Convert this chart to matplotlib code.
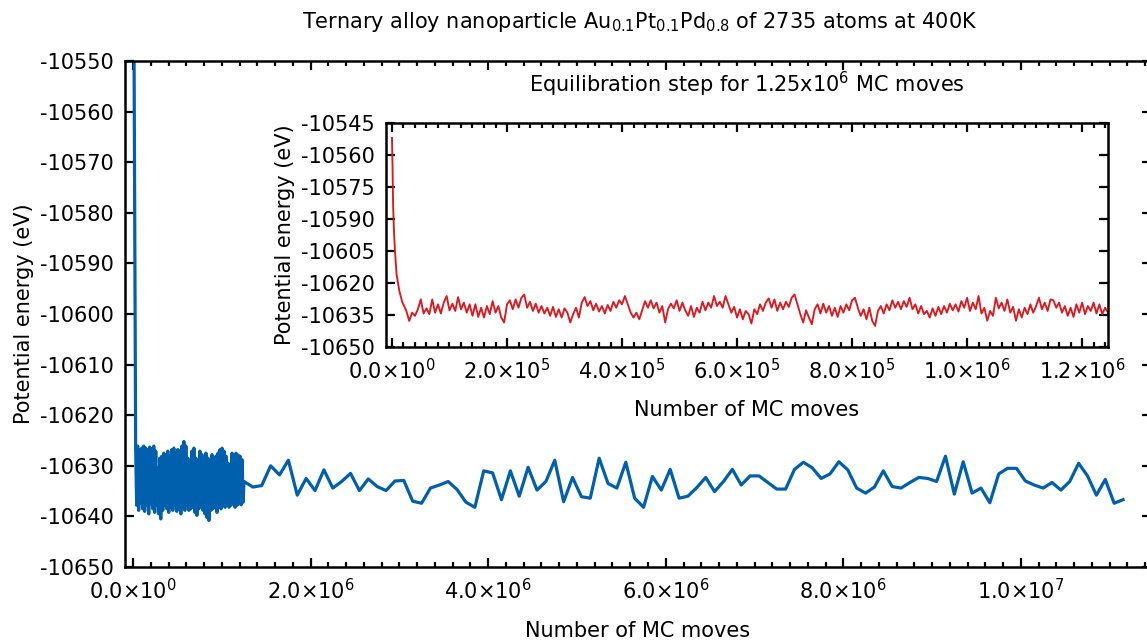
import numpy as np
import matplotlib
matplotlib.use("Agg")
import matplotlib.pyplot as plt
from matplotlib.ticker import FixedLocator, MultipleLocator

# ---------------- data ----------------
title = "Ternary alloy nanoparticle Au$_{0.1}$Pt$_{0.1}$Pd$_{0.8}$ of 2735 atoms at 400K"
inset_title = "Equilibration step for 1.25x10$^{6}$ MC moves"
ylabel = "Potential energy (eV)"
xlabel = "Number of MC moves"

main_xticks = [0, 2e6, 4e6, 6e6, 8e6, 1e7]
main_xticklabels = ["0.0×10$^{0}$", "2.0×10$^{6}$", "4.0×10$^{6}$", "6.0×10$^{6}$",
                    "8.0×10$^{6}$", "1.0×10$^{7}$"]
main_yticks = [-10650, -10640, -10630, -10620, -10610, -10600, -10590, -10580,
               -10570, -10560, -10550]
inset_xticks = [0, 2e5, 4e5, 6e5, 8e5, 1e6, 1.2e6]
inset_xticklabels = ["0.0×10$^{0}$", "2.0×10$^{5}$", "4.0×10$^{5}$", "6.0×10$^{5}$",
                     "8.0×10$^{5}$", "1.0×10$^{6}$", "1.2×10$^{6}$"]
inset_yticks = [-10650, -10635, -10620, -10605, -10590, -10575, -10560, -10545]

# main plot: initial point (off the top), dense equilibration band (upper / lower
# excursions), then production samples every 1e5 moves starting at 1.25e6
main_start_moves = [10000]
main_start_energy = [-10540.0]

band_upper = [-10626.5, -10626.1, -10626.8, -10626.5, -10626.1, -10626.5, -10626.8, -10626.3, -10626.6, -10626.1,
              -10627.1, -10630.4, -10628.5, -10628.1, -10627.5, -10627.8, -10627.1, -10628.1, -10626.8, -10626.5,
              -10627.5, -10626.8, -10627.1, -10626.1, -10625.2, -10626.1, -10628.5, -10629.8, -10627.1, -10626.5,
              -10628.5, -10629.5, -10627.1, -10627.8, -10628.8, -10627.5, -10628.5, -10629.1, -10627.8, -10628.8,
              -10628.1, -10627.5, -10626.8, -10626.5, -10627.1, -10628.1, -10629.5, -10629.8, -10627.5, -10627.8,
              -10627.5, -10627.9, -10628.1, -10628.8]
band_lower = [-10637.8, -10638.8, -10637.5, -10638.5, -10639.0, -10637.8, -10639.5, -10637.5, -10638.5, -10639.2,
              -10637.8, -10639.5, -10640.5, -10638.8, -10637.8, -10638.5, -10639.2, -10638.2, -10638.8, -10637.8,
              -10639.0, -10638.5, -10639.5, -10638.2, -10638.8, -10637.8, -10638.8, -10638.5, -10638.2, -10639.2,
              -10639.8, -10638.5, -10637.8, -10638.8, -10639.5, -10640.2, -10640.8, -10638.8, -10638.5, -10638.2,
              -10639.2, -10637.8, -10638.5, -10637.7, -10638.2, -10637.5, -10638.2, -10637.8, -10637.5, -10638.2,
              -10637.8, -10637.5, -10637.7, -10637.2]
band_first_move = 30000
band_last_move = 1240000

prod_first_move = 1.25e6
prod_step = 1.0e5
prod_energy = [
    -10633.1, -10634.2, -10633.9, -10630.0, -10631.8, -10628.9, -10635.8, -10632.5, -10634.9, -10630.8,
    -10634.4, -10633.1, -10631.5, -10634.9, -10632.6, -10634.1, -10634.9, -10633.0, -10632.9, -10637.0,
    -10637.4, -10634.4, -10633.8, -10633.1, -10634.7, -10637.2, -10638.2, -10631.0, -10631.4, -10636.7,
    -10631.0, -10636.0, -10630.3, -10634.8, -10633.1, -10628.9, -10637.1, -10632.3, -10636.1, -10636.4,
    -10628.5, -10633.5, -10634.4, -10629.3, -10636.4, -10638.2, -10632.1, -10634.8, -10630.7, -10636.4,
    -10636.0, -10634.3, -10632.3, -10635.1, -10633.1, -10630.7, -10633.8, -10632.0, -10632.0, -10633.3,
    -10634.6, -10634.6, -10630.7, -10629.3, -10630.4, -10632.5, -10631.6, -10629.2, -10630.8, -10634.4,
    -10635.4, -10634.2, -10631.0, -10634.1, -10634.4, -10633.3, -10632.3, -10632.5, -10633.1, -10628.1,
    -10635.6, -10629.2, -10635.4, -10634.4, -10637.3, -10631.6, -10630.5, -10630.5, -10633.0, -10633.8,
    -10634.4, -10633.3, -10634.8, -10633.1, -10629.5, -10632.0, -10635.8, -10632.7, -10637.4, -10636.7]

# inset: initial decay then samples every 5000 moves from 25000
eq_init_moves = [0, 1000, 2000, 3500, 5000, 8000, 13000, 18000]
eq_init_energy = [-10552.0, -10566.0, -10584.0, -10596.0, -10604.0, -10616.0, -10624.0, -10629.0]
eq_first_move = 25000
eq_step = 5000
eq_energy = [
    -10633.1, -10637.8, -10633.9, -10635.4, -10632.3, -10627.7, -10634.3, -10631.9, -10634.6, -10627.7,
    -10633.9, -10630.0, -10634.3, -10629.2, -10626.1, -10632.8, -10629.7, -10633.1, -10626.6, -10632.3,
    -10629.2, -10633.9, -10630.0, -10635.4, -10630.0, -10635.9, -10631.6, -10636.2, -10630.8, -10634.6,
    -10628.5, -10633.9, -10630.8, -10636.2, -10638.5, -10630.0, -10628.1, -10632.3, -10627.7, -10631.6,
    -10626.9, -10625.4, -10631.6, -10628.8, -10633.1, -10629.7, -10633.9, -10630.8, -10634.3, -10631.6,
    -10635.4, -10631.2, -10635.9, -10632.3, -10636.2, -10631.9,
    -10633.9, -10638.5, -10634.6, -10631.6, -10636.2, -10629.2, -10626.6, -10630.8, -10628.5, -10632.8,
    -10629.7, -10633.4, -10630.8, -10634.3, -10630.3, -10633.1, -10628.8, -10631.6, -10628.1, -10630.0,
    -10626.1, -10630.0, -10633.9, -10636.2, -10633.9, -10637.0, -10632.8, -10628.5, -10631.6, -10628.1,
    -10631.9, -10629.2, -10633.9, -10630.8, -10638.5, -10632.3, -10629.7, -10631.9, -10628.1, -10633.1,
    -10629.2, -10632.8, -10635.4, -10630.8, -10635.9, -10631.6, -10633.9, -10628.8, -10632.8, -10629.2,
    -10631.6, -10626.1, -10630.8, -10628.8, -10631.6, -10626.1, -10630.0, -10633.9, -10631.2, -10636.2,
    -10632.3, -10637.0, -10633.1,
    -10634.6, -10639.0, -10632.3, -10634.6, -10630.0, -10633.1, -10629.2, -10627.2, -10631.6, -10627.7,
    -10633.1, -10629.2, -10632.3, -10628.8, -10631.2, -10626.9, -10625.4, -10630.0, -10634.6, -10638.5,
    -10632.8, -10636.2, -10639.3, -10632.3, -10630.0, -10634.3, -10629.7, -10633.9, -10630.8, -10635.4,
    -10631.6, -10635.9, -10630.8, -10633.9, -10630.0, -10632.8, -10628.1, -10626.9, -10631.6, -10635.4,
    -10632.3, -10637.0, -10631.6, -10637.7, -10640.1, -10633.1, -10630.8, -10634.3, -10630.0, -10632.8,
    -10628.1, -10631.6, -10628.8, -10632.3, -10628.5, -10631.2, -10626.9, -10632.3, -10630.0, -10634.3,
    -10630.8, -10634.6,
    -10633.1, -10636.2, -10631.9, -10635.4, -10631.2, -10634.6, -10630.8, -10633.9, -10629.7, -10632.8,
    -10630.0, -10633.4, -10628.5, -10631.6, -10626.9, -10633.1, -10629.2, -10632.3, -10626.1, -10634.3,
    -10631.6, -10637.7, -10633.1, -10635.4, -10626.9, -10631.9, -10629.2, -10633.1, -10627.7, -10633.9,
    -10631.2, -10637.7, -10632.3, -10636.2, -10631.6, -10634.6, -10630.0, -10633.9, -10630.8, -10626.9,
    -10632.3, -10629.2, -10633.1, -10627.7, -10628.1, -10631.6, -10629.2, -10633.9, -10630.8, -10635.4,
    -10631.6, -10635.9, -10630.0, -10633.9, -10629.2, -10634.6, -10630.8, -10633.1, -10629.2, -10634.3,
    -10630.0, -10634.6, -10631.6, -10633.9]

# ---------------- styling ----------------
BLUE = "#0060ad"
RED = "#dd181f"
FS = 15
plt.rcParams.update({
    "font.family": "DejaVu Sans",
    "mathtext.default": "regular",
    "font.size": FS,
    "axes.linewidth": 1.8,
    "path.simplify": False,
})

W, H = 1147, 642
fig = plt.figure(figsize=(W / 100, H / 100), dpi=100)


def frac(x0, y0, x1, y1):
    return [x0 / W, 1 - y1 / H, (x1 - x0) / W, (y1 - y0) / H]


def style_ticks(ax):
    ax.tick_params(which="both", direction="in", top=True, right=True, width=1.6)
    ax.tick_params(which="major", length=6.5, pad=8)
    ax.tick_params(which="minor", length=3.5)
    ax.tick_params(axis="y", which="minor", left=False, right=False)


# main axes
ax = fig.add_axes(frac(125, 61, 1151, 567))
band_moves = np.linspace(band_first_move, band_last_move, 2 * len(band_upper))
band_energy = np.empty(2 * len(band_upper))
band_energy[0::2] = band_upper
band_energy[1::2] = band_lower
prod_moves = prod_first_move + prod_step * np.arange(len(prod_energy))
main_x = np.concatenate([main_start_moves, band_moves, prod_moves])
main_y = np.concatenate([main_start_energy, band_energy, prod_energy])
ax.plot(main_x, main_y, color=BLUE, lw=2.3, solid_joinstyle="round")
ax.set_xlim(-0.09e6, 11.465e6)
ax.set_ylim(-10650, -10550)
ax.xaxis.set_major_locator(FixedLocator(main_xticks))
ax.set_xticklabels(main_xticklabels)
ax.xaxis.set_minor_locator(MultipleLocator(2e5))
ax.yaxis.set_major_locator(FixedLocator(main_yticks))
ax.set_yticklabels([str(v) for v in main_yticks])
style_ticks(ax)
ax.set_xlabel(xlabel)
ax.xaxis.set_label_coords(0.5, -0.1265)
ax.xaxis.label.set_va("center")
ax.set_ylabel(ylabel)
ax.yaxis.set_label_coords(-0.0985, 0.5)
ax.yaxis.label.set_va("center")
ax.text(0.502, 1.077, title, transform=ax.transAxes, ha="center", va="center")

# inset axes
ax_in = fig.add_axes(frac(386, 123, 1108, 347))
eq_moves = eq_first_move + eq_step * np.arange(len(eq_energy))
in_x = np.concatenate([eq_init_moves, eq_moves])
in_y = np.concatenate([eq_init_energy, eq_energy])
ax_in.plot(in_x, in_y, color=RED, lw=1.35)
ax_in.set_xlim(-0.0104e6, 1.245e6)
ax_in.set_ylim(-10650, -10545)
ax_in.xaxis.set_major_locator(FixedLocator(inset_xticks))
ax_in.set_xticklabels(inset_xticklabels)
ax_in.xaxis.set_minor_locator(MultipleLocator(2e4))
ax_in.yaxis.set_major_locator(FixedLocator(inset_yticks))
ax_in.set_yticklabels([str(v) for v in inset_yticks])
style_ticks(ax_in)
ax_in.set_xlabel(xlabel)
ax_in.xaxis.set_label_coords(0.5, -0.281)
ax_in.xaxis.label.set_va("center")
ax_in.set_ylabel(ylabel)
ax_in.yaxis.set_label_coords(-0.14, 0.5)
ax_in.yaxis.label.set_va("center")
ax_in.text(0.5, 1.174, inset_title, transform=ax_in.transAxes, ha="center", va="center")

fig.savefig("out.png", dpi=100)
